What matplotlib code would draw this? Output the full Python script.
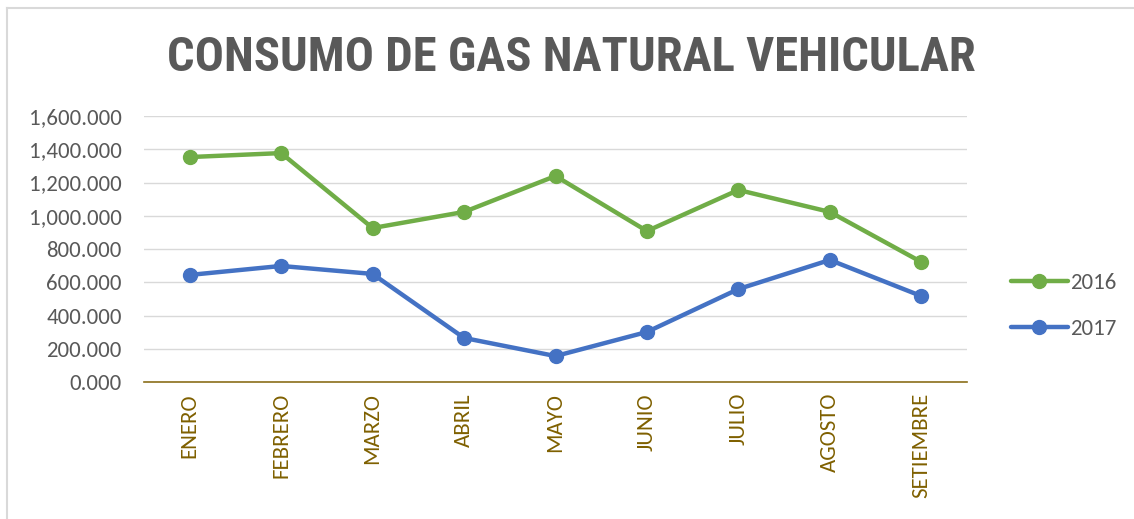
import matplotlib
matplotlib.use("Agg")
import matplotlib.pyplot as plt
from matplotlib.lines import Line2D
from matplotlib import font_manager as fm

months = ["ENERO", "FEBRERO", "MARZO", "ABRIL", "MAYO", "JUNIO", "JULIO", "AGOSTO", "SETIEMBRE"]
values_2016 = [1353, 1377, 926, 1023, 1239, 908, 1155, 1023, 722]
values_2017 = [644, 698, 650, 265, 156, 301, 559, 734, 517]
yticks = [0, 200, 400, 600, 800, 1000, 1200, 1400, 1600]
ytick_labels = ["0.000", "200.000", "400.000", "600.000", "800.000",
                "1,000.000", "1,200.000", "1,400.000", "1,600.000"]

installed = {f.name for f in fm.fontManager.ttflist}
if "Carlito" in installed:
    body = "Carlito"
    ysz, xsz, lsz = 16.5, 16.5, 16.5
else:
    body = "Open Sans"
    ysz, xsz, lsz = 14, 14, 14.5
title_fams = [f for f in ["Liberation Sans Narrow", "Arimo Narrow", "Roboto Condensed",
                          "Barlow Semi Condensed", "Archivo Narrow"] if f in installed] + ["DejaVu Sans"]

fig = plt.figure(figsize=(11.34, 5.19), dpi=100)
fig.patch.set_facecolor("white")
# chart-area frame: only left and top edges are visible in the reference
bx, by = 7/1134, 1 - 7.5/519
fig.add_artist(Line2D([bx, bx], [0, by], transform=fig.transFigure, color="#D9D9D9", lw=1.5))
fig.add_artist(Line2D([bx, 1], [by, by], transform=fig.transFigure, color="#D9D9D9", lw=1.5))

ax = fig.add_axes([144/1134, 1 - 382/519, (967 - 144)/1134, (382 - 116)/519])
x = list(range(len(months)))
ax.plot(x, values_2016, color="#70AD47", lw=3.2, marker="o", ms=10, label="2016", solid_capstyle="round")
ax.plot(x, values_2017, color="#4472C4", lw=3.2, marker="o", ms=10, label="2017", solid_capstyle="round")

ax.set_xlim(-0.5, len(months) - 0.5)
ax.set_ylim(0, 1600)
ax.set_yticks(yticks)
ax.set_yticklabels(ytick_labels, fontsize=ysz, color="#595959", family=body)
ax.set_xticks(x)
ax.set_xticklabels(months, rotation=90, fontsize=xsz, color="#7F6000", family=body, va="top")
ax.tick_params(axis="both", length=0)
ax.tick_params(axis="y", pad=16)
ax.tick_params(axis="x", pad=8)
ax.grid(axis="y", color="#D9D9D9", lw=1)
ax.set_axisbelow(True)
for s in ["top", "right", "left"]:
    ax.spines[s].set_visible(False)
ax.spines["bottom"].set_color("#8B6F1A")
ax.spines["bottom"].set_linewidth(1.2)

leg = fig.legend(loc="center left", bbox_to_anchor=(990/1134, 1 - 306/519), frameon=False,
                 handlelength=2.5, labelspacing=1.15, handletextpad=0.1,
                 prop={"family": body, "size": lsz})
for t in leg.get_texts():
    t.set_color("#595959")

fig.text(571/1134, 1 - 58/519, "CONSUMO DE GAS NATURAL VEHICULAR", ha="center", va="center",
         fontsize=35, fontweight="bold", color="#595959", family=title_fams)

fig.savefig("out.png", dpi=100)
